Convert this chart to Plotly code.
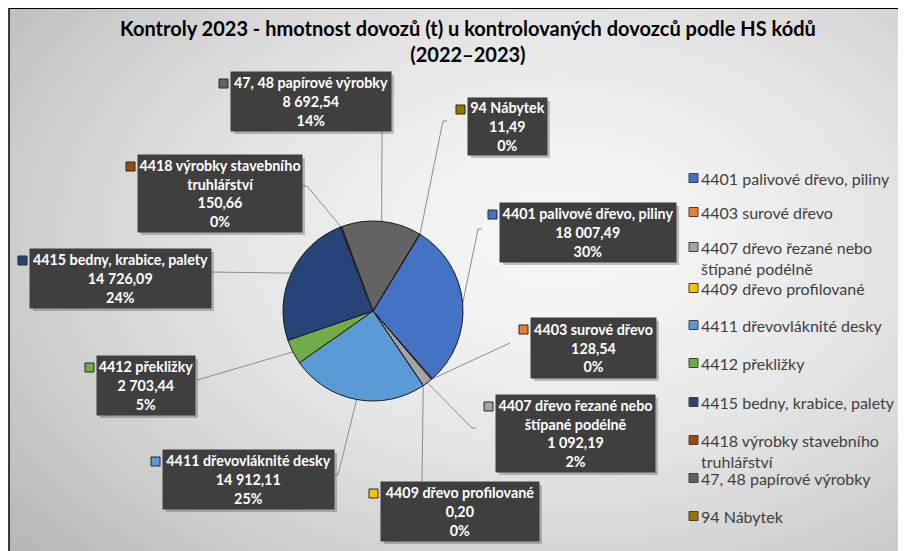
import base64, struct, zlib
import numpy as np
import plotly.graph_objects as go

W, H = 906, 551
OFF = 8  # page body margin: reference pixel -> figure pixel offset

# ---------------- data ----------------
categories = [
    "4401 palivové dřevo, piliny",
    "4403 surové dřevo",
    "4407 dřevo řezané nebo<br>štípané podélně",
    "4409 dřevo profilované",
    "4411 dřevovláknité desky",
    "4412 překližky",
    "4415 bedny, krabice, palety",
    "4418 výrobky stavebního<br>truhlářství",
    "47, 48 papírové výrobky",
    "94 Nábytek",
]
weights_t = [18007.49, 128.54, 1092.19, 0.20, 14912.11, 2703.44, 14726.09, 150.66, 8692.54, 11.49]
colors = ["#4472C4", "#ED7D31", "#A5A5A5", "#FFC000", "#5B9BD5",
          "#70AD47", "#264478", "#9E480E", "#636363", "#997300"]
title_text = "Kontroly 2023 - hmotnost dovozů (t) u kontrolovaných dovozců podle HS kódů<br>(2022–2023)"

# ---------------- helpers ----------------
def cz_num(v):
    return f"{v:,.2f}".replace(",", " ").replace(".", ",")

def pct_largest_remainder(vals):
    tot = sum(vals)
    raw = [v / tot * 100 for v in vals]
    base = [int(np.floor(r)) for r in raw]
    rem = sorted(range(len(vals)), key=lambda i: raw[i] - base[i], reverse=True)
    for i in rem[: 100 - sum(base)]:
        base[i] += 1
    return base

pcts = pct_largest_remainder(weights_t)
total = sum(weights_t)

def px(x):
    return (x - OFF) / W

def py(y):
    return 1 - (y - OFF) / H

# background gradient image (style only)
def gradient_png(w, h):
    xs = np.linspace(OFF + 1, OFF + W, w)
    ys = np.linspace(OFF, OFF + H, h)
    X, Y = np.meshgrid(xs, ys)
    d = np.sqrt(((X - 560) / 600) ** 2 + ((Y - 240) / 400) ** 2)
    c = np.clip(247 - 48 * d ** 1.6, 0, 255).astype(np.uint8)
    arr = np.stack([c, c, c], axis=-1)
    raw = b"".join(b"\x00" + arr[r].tobytes() for r in range(h))
    def chunk(t, data):
        ch = struct.pack(">I", len(data)) + t + data
        return ch + struct.pack(">I", zlib.crc32(t + data) & 0xffffffff)
    png = b"\x89PNG\r\n\x1a\n"
    png += chunk(b"IHDR", struct.pack(">IIBBBBB", w, h, 8, 2, 0, 0, 0))
    png += chunk(b"IDAT", zlib.compress(raw, 9))
    png += chunk(b"IEND", b"")
    return "data:image/png;base64," + base64.b64encode(png).decode()

# ---------------- layout geometry (reference pixels) ----------------
cx, cy, R = 373, 311, 90
start_angle = 31.5
# label boxes: left, top, width, height
boxes = [
    (500, 203, 176, 59),
    (531, 318, 125, 60),
    (496, 395, 159, 77),
    (381, 482, 158, 59),
    (163, 450, 171, 59),
    (97, 356, 98, 59),
    (30, 249, 181, 59),
    (138, 155, 164, 77),
    (231, 72, 160, 59),
    (468, 98, 79, 57),
]
# leader line outer end points (with optional tick end)
leader_ends = [
    [(478, 229), (482, 229)],
    [(510, 343)],
    [(472, 428), (476, 428)],
    [(422, 482)],
    [(338, 475), (333, 475)],
    [(197, 380)],
    [(211, 272)],
    [(307, 186), (302, 186)],
    [(382, 131)],
    [(443, 121), (447, 121)],
]
# legend rows (first-line centre)
legend_x = 689
legend_rows = [178, 212, 247, 288, 325, 363, 402, 440, 478, 516]

fig = go.Figure()
fig.add_trace(go.Pie(
    labels=[c.replace("<br>", " ") for c in categories],
    values=weights_t,
    sort=False,
    direction="clockwise",
    rotation=start_angle,
    textinfo="none",
    hoverinfo="label+value+percent",
    marker=dict(colors=colors, line=dict(color="#1a1a1a", width=1)),
    domain=dict(x=[px(cx - R), px(cx + R)], y=[py(cy + R), py(cy - R)]),
    showlegend=False,
))

shapes = []
annotations = []
cum = 0.0
for i, v in enumerate(weights_t):
    frac = v / total
    mid = start_angle + 360 * (cum + frac / 2)
    cum += frac
    a = np.radians(mid)
    ex, ey = cx + R * np.sin(a), cy - R * np.cos(a)
    pts = [(ex, ey)] + leader_ends[i]
    path = "M " + " L ".join(f"{px(x):.5f},{py(y):.5f}" for x, y in pts)
    shapes.append(dict(type="path", path=path, xref="paper", yref="paper",
                       line=dict(color="#8c8c8c", width=1), layer="below"))
    bx, by, bw, bh = boxes[i]
    # shadow
    shapes.append(dict(type="rect", xref="paper", yref="paper",
                       x0=px(bx + 3), x1=px(bx + bw + 3), y0=py(by + 3), y1=py(by + bh + 3),
                       fillcolor="rgba(0,0,0,0.22)", line=dict(width=0), layer="above"))
    # key square next to data label
    shapes.append(dict(type="rect", xref="paper", yref="paper",
                       x0=px(bx - 12), x1=px(bx - 3), y0=py(by + 7), y1=py(by + 16),
                       fillcolor=colors[i], line=dict(color="#262626", width=1), layer="above"))
    txt = f"{categories[i]}<br>{cz_num(v)}<br>{pcts[i]}%"
    annotations.append(dict(
        x=px(bx + bw / 2), y=py(by + bh / 2), xref="paper", yref="paper",
        xanchor="center", yanchor="middle", showarrow=False,
        text=f"<b>{txt}</b>", align="center",
        width=bw, height=bh, borderpad=0, bgcolor="#3f3f3f",
        font=dict(family="Lato", size=14.3, color="white"),
    ))
    # legend entry
    ly = legend_rows[i]
    shapes.append(dict(type="rect", xref="paper", yref="paper",
                       x0=px(legend_x), x1=px(legend_x + 9), y0=py(ly - 4.5), y1=py(ly + 4.5),
                       fillcolor=colors[i], line=dict(color="#404040", width=1), layer="above"))
    annotations.append(dict(
        x=px(legend_x + 10), y=py(ly - 11.5), xref="paper", yref="paper",
        xanchor="left", yanchor="top", showarrow=False, align="left",
        text=categories[i], font=dict(family="Lato", size=16, color="#404040"),
    ))

# chart title
annotations.append(dict(
    x=px(468), y=py(41), xref="paper", yref="paper", xanchor="center", yanchor="middle",
    showarrow=False, align="center", text=f"<b>{title_text}</b>",
    font=dict(family="Lato", size=20, color="black"),
))

# frame lines
shapes.append(dict(type="line", xref="paper", yref="paper", x0=px(9), x1=1, y0=1, y1=1,
                   line=dict(color="black", width=2), layer="above"))
shapes.append(dict(type="line", xref="paper", yref="paper", x0=px(9), x1=px(9), y0=0, y1=1,
                   line=dict(color="black", width=1.5), layer="above"))

fig.update_layout(
    width=W, height=H,
    margin=dict(l=0, r=0, t=0, b=0),
    paper_bgcolor="white",
    plot_bgcolor="rgba(0,0,0,0)",
    showlegend=False,
    shapes=shapes,
    annotations=annotations,
    images=[dict(source=gradient_png(300, 182), xref="paper", yref="paper",
                 x=px(9), y=1, sizex=1 - px(9), sizey=1,
                 xanchor="left", yanchor="top", sizing="stretch", layer="below")],
)

fig.write_html("out.html")
